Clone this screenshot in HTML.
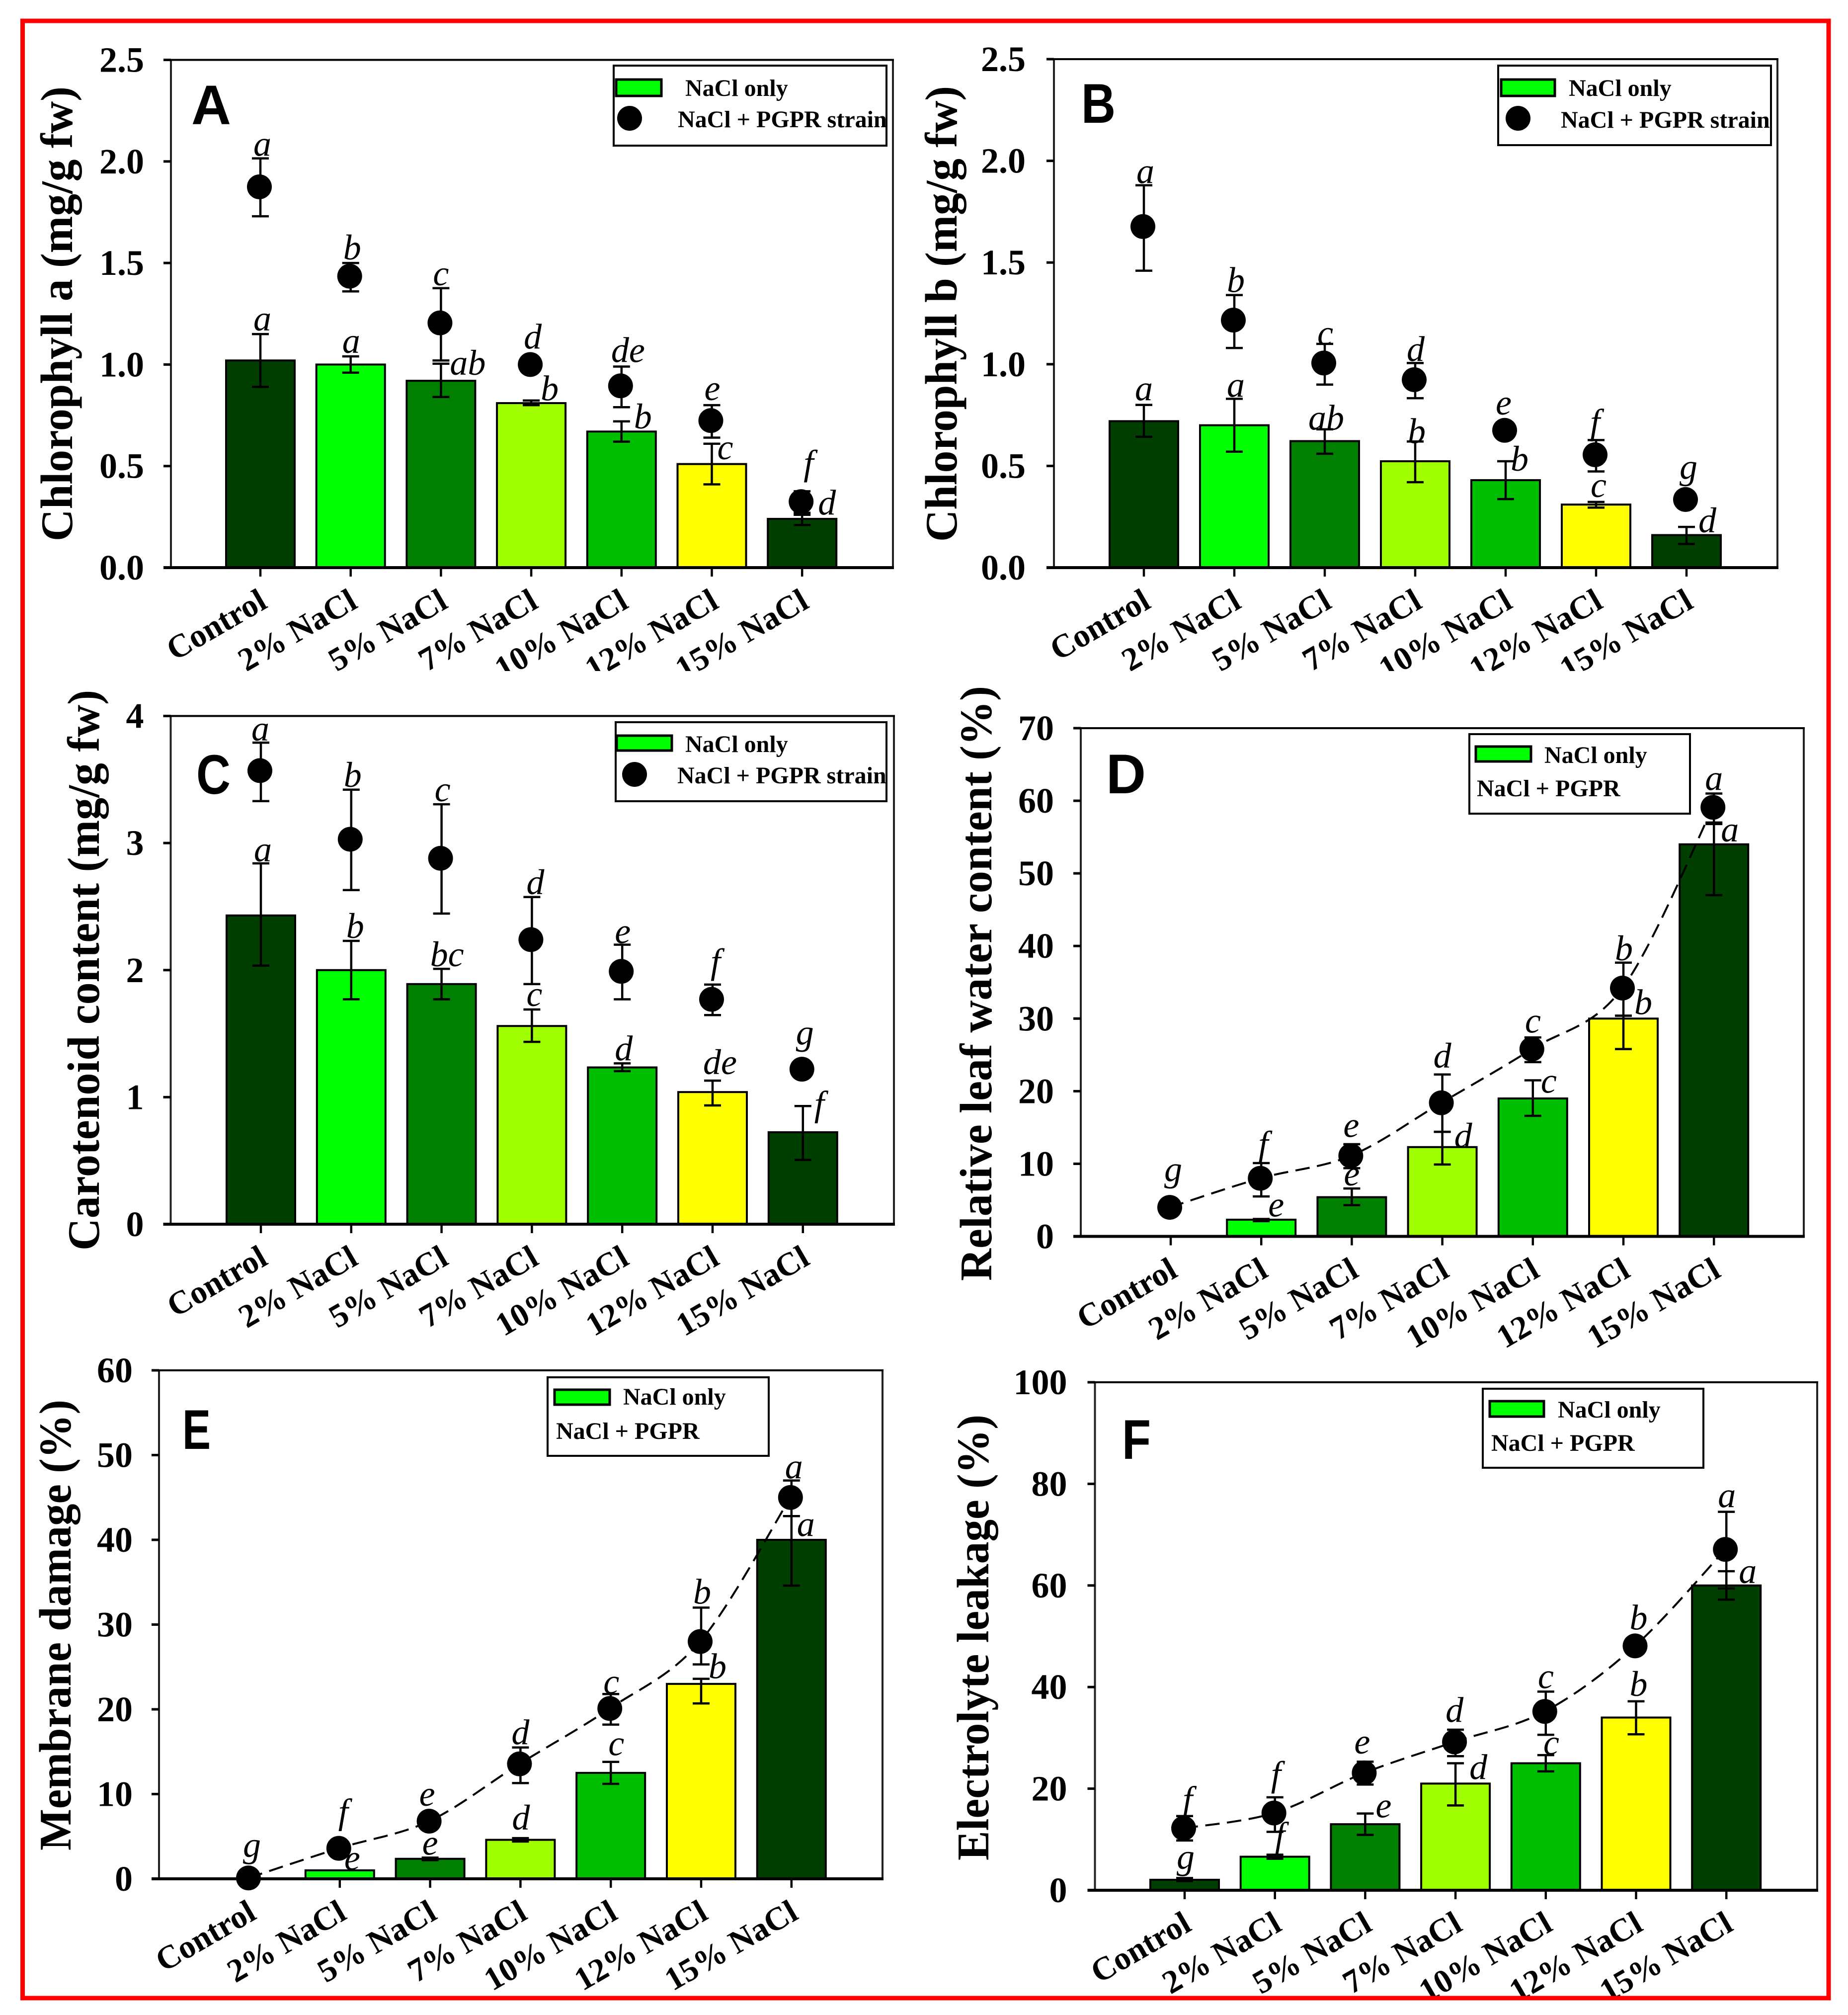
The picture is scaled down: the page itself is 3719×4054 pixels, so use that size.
<!DOCTYPE html>
<html lang="en">
<head>
<meta charset="utf-8">
<title>Physiological responses to NaCl with and without PGPR strain</title>
<style>
html,body{margin:0;padding:0;background:#fff;}
svg{display:block;font-family:"Liberation Serif",serif;}
.ttl{font-size:91px;font-weight:bold;fill:#000;}
.plet{font-family:"Liberation Sans",sans-serif;font-size:112px;font-weight:bold;fill:#000;}
.leg{font-size:48px;font-weight:bold;fill:#000;}
.box{fill:#fff;stroke:#000;stroke-width:4;}
.sw{fill:#00ff00;stroke:#000;stroke-width:5;}
</style>
</head>
<body>
<svg id="figure" xmlns="http://www.w3.org/2000/svg" width="3719" height="4054" viewBox="0 0 3719 4054">
  <rect x="0" y="0" width="3719" height="4054" fill="#fff"/>
  <g id="plots"></g>

  <rect x="300" y="1350" width="3340" height="32" fill="#fff"/>
  <rect x="0" y="4020" width="3719" height="34" fill="#fff"/>

  <text class="ttl" transform="translate(145,1089) rotate(-90)" textLength="915" lengthAdjust="spacingAndGlyphs">Chlorophyll a (mg/g fw)</text>
  <text class="ttl" transform="translate(1925,1090) rotate(-90)" textLength="917" lengthAdjust="spacingAndGlyphs">Chlorophyll b (mg/g fw)</text>
  <text class="ttl" transform="translate(199,2516) rotate(-90)" textLength="1128" lengthAdjust="spacingAndGlyphs">Carotenoid content (mg/g fw)</text>
  <text class="ttl" transform="translate(1995,2577) rotate(-90)" textLength="1197" lengthAdjust="spacingAndGlyphs">Relative leaf water content (%)</text>
  <text class="ttl" transform="translate(142,3723) rotate(-90)" textLength="907" lengthAdjust="spacingAndGlyphs">Membrane damage (%)</text>
  <text class="ttl" transform="translate(1989,3743) rotate(-90)" textLength="897" lengthAdjust="spacingAndGlyphs">Electrolyte leakage (%)</text>

  <text class="plet" x="385" y="250" textLength="80" lengthAdjust="spacingAndGlyphs">A</text>
  <text class="plet" x="2176" y="247" textLength="69" lengthAdjust="spacingAndGlyphs">B</text>
  <text class="plet" x="395" y="1597" textLength="69" lengthAdjust="spacingAndGlyphs">C</text>
  <text class="plet" x="2226" y="1596" textLength="80" lengthAdjust="spacingAndGlyphs">D</text>
  <text class="plet" x="367" y="2915" textLength="57" lengthAdjust="spacingAndGlyphs">E</text>
  <text class="plet" x="2258" y="2935" textLength="58" lengthAdjust="spacingAndGlyphs">F</text>

  <g>
    <rect class="box" x="1235" y="132" width="549" height="161"/>
    <rect class="sw" x="1240" y="160" width="91" height="33"/>
    <text class="leg" x="1379" y="193">NaCl only</text>
    <circle cx="1267" cy="238" r="25" fill="#000"/>
    <text class="leg" x="1364" y="256">NaCl + PGPR strain</text>
  </g>
  <g>
    <rect class="box" x="3015" y="132" width="549" height="160"/>
    <rect class="sw" x="3021" y="160" width="108" height="33"/>
    <text class="leg" x="3157" y="193">NaCl only</text>
    <circle cx="3055" cy="238" r="25" fill="#000"/>
    <text class="leg" x="3141" y="257">NaCl + PGPR strain</text>
  </g>
  <g>
    <rect class="box" x="1239" y="1453" width="545" height="159"/>
    <rect class="sw" x="1241" y="1480" width="111" height="30"/>
    <text class="leg" x="1379" y="1513">NaCl only</text>
    <circle cx="1277" cy="1558" r="25" fill="#000"/>
    <text class="leg" x="1363" y="1576">NaCl + PGPR strain</text>
  </g>
  <g>
    <rect class="box" x="2957" y="1477" width="444" height="160"/>
    <rect class="sw" x="2970" y="1502" width="111" height="30"/>
    <text class="leg" x="3108" y="1535">NaCl only</text>
    <text class="leg" x="2972" y="1602">NaCl + PGPR</text>
  </g>
  <g>
    <rect class="box" x="1102" y="2771" width="445" height="158"/>
    <rect class="sw" x="1116" y="2796" width="111" height="30"/>
    <text class="leg" x="1254" y="2826">NaCl only</text>
    <text class="leg" x="1119" y="2895">NaCl + PGPR</text>
  </g>
  <g>
    <rect class="box" x="2984" y="2794" width="444" height="159"/>
    <rect class="sw" x="2998" y="2819" width="109" height="31"/>
    <text class="leg" x="3135" y="2852">NaCl only</text>
    <text class="leg" x="3001" y="2919">NaCl + PGPR</text>
  </g>

  <rect x="45.5" y="42" width="3634.5" height="3978" fill="none" stroke="#ff0000" stroke-width="9"/>
</svg>

<script>
const categories = ['Control', '2% NaCl', '5% NaCl', '7% NaCl', '10% NaCl', '12% NaCl', '15% NaCl'];

/* Panel A: chlorophyll a */
const aTickValues = [0, 0.5, 1, 1.5, 2, 2.5];
const aTickLabels = ['0.0', '0.5', '1.0', '1.5', '2.0', '2.5'];
const aBarValues = [1.02, 1.00, 0.92, 0.81, 0.67, 0.51, 0.24];
const aBarHigh = [1.15, 1.04, 1.004, 0.823, 0.72, 0.61, 0.27];
const aBarLow = [0.89, 0.96, 0.84, 0.80, 0.62, 0.41, 0.21];
const aDotValues = [1.875, 1.435, 1.205, 1.00, 0.895, 0.724, 0.325];
const aDotHigh = [2.015, 1.50, 1.376, 1.00, 0.99, 0.80, 0.376];
const aDotLow = [1.73, 1.36, 1.02, 1.00, 0.79, 0.64, 0.26];
const aBarLetters = ['a', 'a', 'ab', 'b', 'b', 'c', 'd'];
const aDotLetters = ['a', 'b', 'c', 'd', 'de', 'e', 'f'];

/* Panel B: chlorophyll b */
const bTickValues = [0, 0.5, 1, 1.5, 2, 2.5];
const bTickLabels = ['0.0', '0.5', '1.0', '1.5', '2.0', '2.5'];
const bBarValues = [0.72, 0.70, 0.622, 0.523, 0.43, 0.31, 0.16];
const bBarHigh = [0.80, 0.83, 0.68, 0.62, 0.523, 0.323, 0.20];
const bBarLow = [0.643, 0.57, 0.56, 0.42, 0.337, 0.295, 0.116];
const bDotValues = [1.677, 1.217, 1.006, 0.924, 0.675, 0.555, 0.335];
const bDotHigh = [1.88, 1.34, 1.10, 1.006, 0.675, 0.627, 0.335];
const bDotLow = [1.46, 1.08, 0.90, 0.833, 0.675, 0.473, 0.335];
const bBarLetters = ['a', 'a', 'ab', 'b', 'b', 'c', 'd'];
const bDotLetters = ['a', 'b', 'c', 'd', 'e', 'f', 'g'];

/* Panel C: carotenoid content */
const cTickValues = [0, 1, 2, 3, 4];
const cTickLabels = ['0', '1', '2', '3', '4'];
const cBarValues = [2.43, 2.0, 1.89, 1.56, 1.234, 1.04, 0.724];
const cBarHigh = [2.84, 2.23, 2.01, 1.69, 1.266, 1.13, 0.93];
const cBarLow = [2.035, 1.77, 1.77, 1.435, 1.205, 0.935, 0.506];
const cDotValues = [3.57, 3.03, 2.88, 2.24, 1.99, 1.77, 1.22];
const cDotHigh = [3.79, 3.42, 3.305, 2.575, 2.2, 1.886, 1.22];
const cDotLow = [3.33, 2.63, 2.445, 1.89, 1.77, 1.646, 1.22];
const cBarLetters = ['a', 'b', 'bc', 'c', 'd', 'de', 'f'];
const cDotLetters = ['a', 'b', 'c', 'd', 'e', 'f', 'g'];

/* Panel D: relative leaf water content */
const dTickValues = [0, 10, 20, 30, 40, 50, 60, 70];
const dTickLabels = ['0', '10', '20', '30', '40', '50', '60', '70'];
const dBarValues = [0, 2.3, 5.4, 12.3, 19, 30, 54];
const dBarHigh = [0, 2.4, 6.6, 14.4, 21.5, 30.4, 56.8];
const dBarLow = [0, 2.1, 4.3, 9.9, 16.6, 25.8, 47];
const dDotValues = [4.0, 8.0, 11.1, 18.4, 25.8, 34.2, 59.1];
const dDotHigh = [4.0, 10.1, 12.7, 22.3, 27.4, 37.7, 61];
const dDotLow = [4.0, 5.5, 9.4, 14.4, 24, 30.4, 57];
const dBarLetters = ['', 'e', 'e', 'd', 'c', 'b', 'a'];
const dDotLetters = ['g', 'f', 'e', 'd', 'c', 'b', 'a'];

/* Panel E: membrane damage */
const eTickValues = [0, 10, 20, 30, 40, 50, 60];
const eTickLabels = ['0', '10', '20', '30', '40', '50', '60'];
const eBarValues = [0, 1.0, 2.36, 4.6, 12.5, 23, 40];
const eBarHigh = [0, 1.0, 2.5, 4.8, 13.8, 23.6, 42.8];
const eBarLow = [0, 1.0, 2.2, 4.4, 11.2, 20.7, 34.6];
const eDotValues = [0.1, 3.6, 6.8, 13.56, 20.1, 28, 45];
const eDotHigh = [0.1, 4.1, 7.4, 15.5, 21.8, 32, 47];
const eDotLow = [0.1, 3.1, 6.2, 11.3, 18.2, 25.3, 42.8];
const eBarLetters = ['', 'e', 'e', 'd', 'c', 'b', 'a'];
const eDotLetters = ['g', 'f', 'e', 'd', 'c', 'b', 'a'];

/* Panel F: electrolyte leakage */
const fTickValues = [0, 20, 40, 60, 80, 100];
const fTickLabels = ['0', '20', '40', '60', '80', '100'];
const fBarValues = [2.06, 6.6, 13, 21, 25, 34, 60];
const fBarHigh = [2.4, 7, 15.1, 25, 26.6, 37.2, 62.8];
const fBarLow = [1.8, 6.2, 10.9, 16.7, 23.4, 30.7, 57.2];
const fDotValues = [12.2, 15.2, 23.1, 29.2, 35.2, 48.1, 67.1];
const fDotHigh = [14.6, 18.3, 25.3, 31.6, 39.1, 49.5, 74.5];
const fDotLow = [9.8, 11.5, 20.8, 26.4, 30.6, 46.7, 59.4];
const fBarLetters = ['g', 'f', 'e', 'd', 'c', 'b', 'a'];
const fDotLetters = ['f', 'f', 'e', 'd', 'c', 'b', 'a'];

const NS = 'http://www.w3.org/2000/svg';
const root = document.getElementById('plots');
const barFills = ['#003f00', '#00ff00', '#007f00', '#a0ff00', '#00bf00', '#ffff00', '#003f00'];
const DOT_R = 25;
const BAR_W = 138;
const CAP = 17;

function mk(parent, tag, attrs, text) {
  const n = document.createElementNS(NS, tag);
  for (const k in attrs) n.setAttribute(k, attrs[k]);
  if (text !== undefined) n.textContent = text;
  parent.appendChild(n);
  return n;
}

function splinePath(pts) {
  let d = 'M' + pts[0][0] + ' ' + pts[0][1];
  for (let i = 0; i < pts.length - 1; i++) {
    const p0 = pts[Math.max(i - 1, 0)], p1 = pts[i], p2 = pts[i + 1], p3 = pts[Math.min(i + 2, pts.length - 1)];
    const c1x = p1[0] + (p2[0] - p0[0]) / 6, c1y = p1[1] + (p2[1] - p0[1]) / 6;
    const c2x = p2[0] - (p3[0] - p1[0]) / 6, c2y = p2[1] - (p3[1] - p1[1]) / 6;
    d += ' C' + c1x + ' ' + c1y + ' ' + c2x + ' ' + c2y + ' ' + p2[0] + ' ' + p2[1];
  }
  return d;
}

function errorBar(g, cx, yHi, yLo, name) {
  const e = mk(g, 'path', {
    d: 'M' + cx + ' ' + yHi + 'V' + yLo + 'M' + (cx - CAP) + ' ' + yHi + 'H' + (cx + CAP) + 'M' + (cx - CAP) + ' ' + yLo + 'H' + (cx + CAP),
    fill: 'none', stroke: '#000', 'stroke-width': 4.5
  });
  
  
}

function letter(g, cx, baseline, txt, name) {
  const t = mk(g, 'text', {
    x: cx, y: baseline, 'text-anchor': 'middle', 'font-size': 72, 'font-style': 'italic', fill: '#000'
  }, txt);
  
  
}

function drawPanel(p) {
  const g = mk(root, 'g', {});
  
  
  const x = i => p.x0 + i * p.step;
  const y = v => p.bottom - (v / p.max) * (p.bottom - p.top);

  /* significance letters sit behind the bars, anchored above the upper cap / marker top */
  p.barLetters.forEach((s, i) => {
    if (!s) return;
    const n = p.barShift[i];
    letter(g, x(i) + n[0], y(p.barHi[i]) - 4 + n[1], s, 'bar-significance-letter');
  });
  p.dotLetters.forEach((s, i) => {
    if (!s) return;
    const n = p.dotShift[i];
    const anchor = Math.min(y(p.dotHi[i]), y(p.dots[i]) - DOT_R);
    letter(g, x(i) + n[0], anchor - 4 + n[1], s, 'point-significance-letter');
  });

  /* bars */
  p.bars.forEach((v, i) => {
    if (v <= 0) return;
    const b = mk(g, 'rect', {
      x: x(i) - BAR_W / 2, y: y(v), width: BAR_W, height: p.bottom - y(v),
      fill: barFills[i], stroke: '#000', 'stroke-width': 4
    });
    
    
  });
  p.bars.forEach((v, i) => {
    if (p.barHi[i] > p.barLo[i]) errorBar(g, x(i), y(p.barHi[i]), y(p.barLo[i]), 'bar-error-' + p.id + '-' + i);
  });

  /* dashed trend */
  if (p.line) {
    const ln = mk(g, 'path', {
      d: splinePath(p.dots.map((v, i) => [x(i) - 2, y(v)])),
      fill: 'none', stroke: '#000', 'stroke-width': 4, 'stroke-dasharray': '29 15'
    });
    
    
  }

  /* dots */
  p.dots.forEach((v, i) => {
    if (p.dotHi[i] > p.dotLo[i]) errorBar(g, x(i), y(p.dotHi[i]), y(p.dotLo[i]), 'point-error-' + p.id + '-' + i);
    const c = mk(g, 'circle', { cx: x(i) - 2, cy: y(v), r: DOT_R, fill: '#000' });
    
    
  });

  /* axes frame */
  const frame = mk(g, 'path', {
    d: 'M' + p.left + ' ' + p.top + 'V' + p.bottom + 'M' + p.right + ' ' + p.top + 'V' + p.bottom,
    fill: 'none', stroke: '#222', 'stroke-width': 4
  });
  
  
  const top = mk(g, 'line', { x1: p.left - 15, x2: p.right + 2, y1: p.top, y2: p.top, stroke: '#000', 'stroke-width': 4 });
  
  
  const base = mk(g, 'line', { x1: p.left - 15, x2: p.right + 2, y1: p.bottom, y2: p.bottom, stroke: '#000', 'stroke-width': 6 });
  
  

  /* y ticks */
  p.ticks.forEach((v, i) => {
    const t = mk(g, 'line', { x1: p.left - 15, x2: p.left, y1: y(v), y2: y(v), stroke: '#000', 'stroke-width': 5 });
    
    
    const l = mk(g, 'text', {
      x: p.left - p.labelGap, y: y(v) + 24, 'text-anchor': 'end', 'font-size': 72, 'font-weight': 'bold', fill: '#000'
    }, p.tickLabels[i]);
    
    
  });

  /* x ticks and labels */
  categories.forEach((name, i) => {
    const t = mk(g, 'line', { x1: x(i), x2: x(i), y1: p.bottom, y2: p.bottom + 18, stroke: '#000', 'stroke-width': 4.5 });
    
    
    const ax = x(i) + 17, ay = p.bottom + 79;
    const l = mk(g, 'text', {
      x: ax, y: ay, 'text-anchor': 'end', 'font-size': 66, 'font-weight': 'bold', fill: '#000',
      transform: 'rotate(-30 ' + ax + ' ' + ay + ')'
    }, name);
    
    
  });
}

drawPanel({ id: 'a', left: 344, right: 1797, top: 120.5, bottom: 1142, x0: 524, step: 181.7, max: 2.5, labelGap: 54, line: false,
  ticks: aTickValues, tickLabels: aTickLabels, bars: aBarValues, barHi: aBarHigh, barLo: aBarLow,
  dots: aDotValues, dotHi: aDotHigh, dotLo: aDotLow, barLetters: aBarLetters, dotLetters: aDotLetters,
  barShift: [[4,-3],[1,-3],[54,26],[37,4],[43,18],[27,35],[50,8]],
  dotShift: [[4,-1],[3,-3],[0,-2],[3,-3],[13,-5],[1,-6],[13,-25]] });

drawPanel({ id: 'b', left: 2121, right: 3577, top: 119, bottom: 1142, x0: 2302, step: 182, max: 2.5, labelGap: 57, line: false,
  ticks: bTickValues, tickLabels: bTickLabels, bars: bBarValues, barHi: bBarHigh, barLo: bBarLow,
  dots: bDotValues, dotHi: bDotHigh, dotLo: bDotLow, barLetters: bBarLetters, dotLetters: bDotLetters,
  barShift: [[0,-5],[3,0],[3,5],[3,7],[28,23],[5,-6],[42,15]],
  dotShift: [[3,0],[3,-2],[1,6],[1,0],[-4,-3],[-2,-9],[4,-13]] });

drawPanel({ id: 'c', left: 343.5, right: 1799, top: 1440.5, bottom: 2463, x0: 525, step: 181.8, max: 4, labelGap: 54, line: false,
  ticks: cTickValues, tickLabels: cTickLabels, bars: cBarValues, barHi: cBarHigh, barLo: cBarLow,
  dots: cDotValues, dotHi: cDotHigh, dotLo: cDotLow, barLetters: cBarLetters, dotLetters: cDotLetters,
  barShift: [[4,0],[8,-2],[11,-1],[5,-3],[3,-2],[15,-9],[33,23]],
  dotShift: [[-1,0],[3,-2],[2,-2],[7,-2],[1,1],[6,-19],[4,-21]] });

drawPanel({ id: 'd', left: 2175, right: 3630, top: 1465, bottom: 2487.5, x0: 2356, step: 182.2, max: 70, labelGap: 54, line: true,
  ticks: dTickValues, tickLabels: dTickLabels, bars: dBarValues, barHi: dBarHigh, barLo: dBarLow,
  dots: dDotValues, dotHi: dDotHigh, dotLo: dDotLow, barLetters: dBarLetters, dotLetters: dDotLetters,
  barShift: [[0,0],[30,-1],[0,-2],[42,36],[32,29],[40,1],[32,39]],
  dotShift: [[5,-24],[4,-11],[-1,-9],[0,-10],[0,-4],[1,-1],[0,-3]] });

drawPanel({ id: 'e', left: 320, right: 1776, top: 2757, bottom: 3780, x0: 502, step: 181.8, max: 60, labelGap: 53, line: true,
  ticks: eTickValues, tickLabels: eTickLabels, bars: eBarValues, barHi: eBarHigh, barLo: eBarLow,
  dots: eDotValues, dotHi: eDotHigh, dotLo: eDotLow, barLetters: eBarLetters, dotLetters: eDotLetters,
  barShift: [[0,0],[25,3],[0,-2],[1,-13],[11,-9],[33,3],[29,44]],
  dotShift: [[5,-14],[7,-21],[-6,-2],[0,-2],[1,3],[2,-4],[5,0]] });

drawPanel({ id: 'f', left: 2203.5, right: 3657, top: 2781, bottom: 3803, x0: 2384, step: 181.7, max: 100, labelGap: 56, line: true,
  ticks: fTickValues, tickLabels: fTickLabels, bars: fBarValues, barHi: fBarHigh, barLo: fBarLow,
  dots: fDotValues, dotHi: fDotHigh, dotLo: fDotLow, barLetters: fBarLetters, dotLetters: fDotLetters,
  barShift: [[2,-15],[10,-12],[37,12],[46,36],[11,3],[5,-7],[43,28]],
  dotShift: [[6,-6],[2,-19],[-6,-10],[-2,-11],[0,-3],[5,-4],[1,-5]] });
</script>
</body>
</html>
